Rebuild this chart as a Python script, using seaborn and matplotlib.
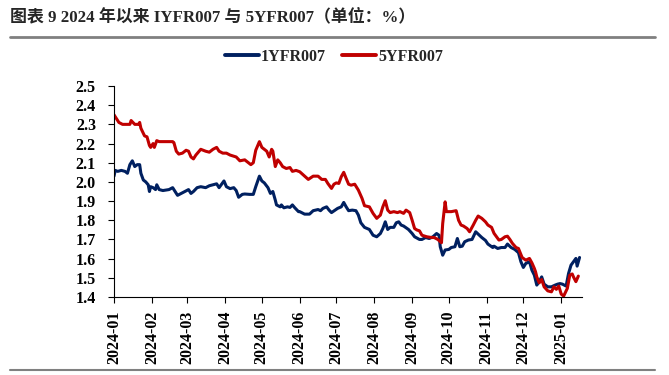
import matplotlib
matplotlib.use("Agg")
import matplotlib.pyplot as plt
import matplotlib.dates as mdates
import pandas as pd
import seaborn as sns
from matplotlib.lines import Line2D

dates_1y = ["2024-01-01","2024-01-02","2024-01-04","2024-01-07","2024-01-10","2024-01-12","2024-01-14","2024-01-16","2024-01-18","2024-01-20","2024-01-22","2024-01-23","2024-01-25","2024-01-27","2024-01-29","2024-01-30","2024-01-31","2024-02-02","2024-02-04","2024-02-05","2024-02-07","2024-02-10","2024-02-15","2024-02-18","2024-02-20","2024-02-22","2024-02-25","2024-02-28","2024-03-02","2024-03-04","2024-03-06","2024-03-09","2024-03-12","2024-03-16","2024-03-19","2024-03-22","2024-03-25","2024-03-27","2024-03-31","2024-04-02","2024-04-05","2024-04-08","2024-04-10","2024-04-12","2024-04-15","2024-04-17","2024-04-21","2024-04-24","2024-04-26","2024-04-29","2024-05-01","2024-05-03","2024-05-06","2024-05-08","2024-05-10","2024-05-12","2024-05-13","2024-05-16","2024-05-17","2024-05-19","2024-05-22","2024-05-24","2024-05-26","2024-05-28","2024-05-31","2024-06-01","2024-06-05","2024-06-09","2024-06-12","2024-06-16","2024-06-18","2024-06-20","2024-06-23","2024-06-25","2024-06-27","2024-06-30","2024-07-02","2024-07-05","2024-07-07","2024-07-09","2024-07-11","2024-07-14","2024-07-17","2024-07-19","2024-07-21","2024-07-24","2024-07-28","2024-07-31","2024-08-03","2024-08-06","2024-08-08","2024-08-10","2024-08-12","2024-08-14","2024-08-17","2024-08-19","2024-08-21","2024-08-23","2024-08-25","2024-08-29","2024-09-01","2024-09-03","2024-09-07","2024-09-09","2024-09-12","2024-09-15","2024-09-18","2024-09-21","2024-09-23","2024-09-24","2024-09-26","2024-09-28","2024-10-01","2024-10-03","2024-10-06","2024-10-08","2024-10-10","2024-10-12","2024-10-14","2024-10-17","2024-10-20","2024-10-23","2024-10-25","2024-10-28","2024-10-31","2024-11-02","2024-11-06","2024-11-07","2024-11-10","2024-11-13","2024-11-16","2024-11-18","2024-11-21","2024-11-24","2024-11-27","2024-11-29","2024-12-01","2024-12-03","2024-12-06","2024-12-08","2024-12-10","2024-12-12","2024-12-14","2024-12-16","2024-12-18","2024-12-21","2024-12-24","2024-12-27","2024-12-29","2024-12-31","2025-01-02","2025-01-05","2025-01-07","2025-01-09","2025-01-11","2025-01-13","2025-01-14","2025-01-16"]
vals_1y = [2.03,2.06,2.055,2.06,2.055,2.045,2.09,2.11,2.08,2.09,2.09,2.045,2.01,2.00,1.985,1.95,1.975,1.97,1.96,1.985,1.96,1.955,1.96,1.97,1.95,1.93,1.94,1.95,1.96,1.94,1.95,1.97,1.975,1.97,1.98,1.985,1.99,1.97,2.005,1.975,1.965,1.97,1.955,1.92,1.935,1.937,1.935,1.935,1.975,2.03,2.005,1.995,1.97,1.94,1.95,1.905,1.88,1.87,1.88,1.865,1.87,1.867,1.88,1.865,1.845,1.845,1.832,1.832,1.85,1.856,1.85,1.862,1.87,1.853,1.84,1.853,1.862,1.87,1.893,1.87,1.85,1.853,1.85,1.827,1.787,1.763,1.752,1.722,1.714,1.731,1.757,1.792,1.752,1.763,1.763,1.787,1.792,1.775,1.77,1.752,1.731,1.714,1.70,1.70,1.71,1.705,1.714,1.731,1.722,1.662,1.618,1.645,1.648,1.658,1.662,1.705,1.662,1.665,1.688,1.697,1.70,1.74,1.728,1.71,1.695,1.676,1.658,1.665,1.653,1.658,1.658,1.676,1.658,1.648,1.631,1.584,1.554,1.575,1.584,1.54,1.514,1.462,1.48,1.505,1.467,1.453,1.453,1.462,1.467,1.47,1.467,1.457,1.523,1.566,1.584,1.601,1.561,1.606]

dates_5y = ["2024-01-01","2024-01-03","2024-01-05","2024-01-08","2024-01-14","2024-01-15","2024-01-18","2024-01-21","2024-01-22","2024-01-23","2024-01-26","2024-01-28","2024-01-30","2024-01-31","2024-02-02","2024-02-03","2024-02-05","2024-02-07","2024-02-18","2024-02-19","2024-02-21","2024-02-23","2024-02-26","2024-02-29","2024-03-02","2024-03-04","2024-03-06","2024-03-08","2024-03-12","2024-03-16","2024-03-19","2024-03-22","2024-03-25","2024-03-27","2024-03-30","2024-04-02","2024-04-05","2024-04-10","2024-04-13","2024-04-17","2024-04-20","2024-04-22","2024-04-24","2024-04-26","2024-04-29","2024-05-01","2024-05-03","2024-05-05","2024-05-07","2024-05-09","2024-05-10","2024-05-12","2024-05-14","2024-05-16","2024-05-18","2024-05-21","2024-05-24","2024-05-26","2024-05-29","2024-06-01","2024-06-04","2024-06-08","2024-06-12","2024-06-16","2024-06-19","2024-06-22","2024-06-24","2024-06-27","2024-06-29","2024-07-01","2024-07-03","2024-07-05","2024-07-07","2024-07-09","2024-07-11","2024-07-13","2024-07-16","2024-07-19","2024-07-22","2024-07-24","2024-07-28","2024-07-31","2024-08-03","2024-08-06","2024-08-08","2024-08-10","2024-08-12","2024-08-14","2024-08-17","2024-08-20","2024-08-22","2024-08-25","2024-08-27","2024-08-30","2024-09-01","2024-09-03","2024-09-05","2024-09-07","2024-09-09","2024-09-13","2024-09-17","2024-09-19","2024-09-22","2024-09-25","2024-09-26","2024-09-28","2024-09-29","2024-10-03","2024-10-07","2024-10-09","2024-10-11","2024-10-13","2024-10-16","2024-10-18","2024-10-21","2024-10-23","2024-10-25","2024-10-28","2024-10-31","2024-11-02","2024-11-05","2024-11-07","2024-11-11","2024-11-13","2024-11-16","2024-11-18","2024-11-20","2024-11-22","2024-11-25","2024-11-27","2024-11-30","2024-12-03","2024-12-06","2024-12-08","2024-12-10","2024-12-11","2024-12-12","2024-12-14","2024-12-16","2024-12-18","2024-12-21","2024-12-24","2024-12-26","2024-12-28","2024-12-30","2025-01-01","2025-01-03","2025-01-06","2025-01-08","2025-01-10","2025-01-11","2025-01-13","2025-01-15"]
vals_5y = [2.35,2.33,2.31,2.30,2.30,2.32,2.30,2.30,2.31,2.28,2.24,2.235,2.19,2.18,2.20,2.18,2.215,2.21,2.21,2.205,2.16,2.145,2.15,2.165,2.16,2.13,2.12,2.14,2.17,2.16,2.155,2.17,2.18,2.16,2.15,2.15,2.14,2.13,2.11,2.115,2.10,2.09,2.10,2.165,2.21,2.18,2.17,2.16,2.13,2.17,2.16,2.08,2.115,2.10,2.08,2.07,2.075,2.055,2.06,2.053,2.036,2.013,2.03,2.03,2.013,2.013,1.992,1.966,1.988,1.995,1.992,2.027,2.05,2.018,1.988,1.983,1.988,1.957,1.914,1.876,1.87,1.836,1.81,1.827,1.87,1.902,1.853,1.84,1.845,1.84,1.845,1.836,1.853,1.84,1.80,1.757,1.749,1.745,1.722,1.714,1.71,1.71,1.70,1.683,1.783,1.896,1.845,1.845,1.85,1.80,1.775,1.77,1.757,1.74,1.775,1.80,1.822,1.81,1.792,1.775,1.763,1.732,1.697,1.70,1.714,1.717,1.70,1.68,1.658,1.653,1.606,1.592,1.601,1.578,1.549,1.531,1.505,1.474,1.491,1.453,1.432,1.427,1.453,1.44,1.457,1.415,1.405,1.445,1.514,1.52,1.505,1.48,1.509]

series_names = ["1YFR007", "5YFR007"]
series_colors = ["#002060", "#C00000"]
title_text = "图表 9 2024 年以来 IYFR007 与 5YFR007（单位：%）"

df = pd.concat([
    pd.DataFrame({"date": pd.to_datetime(dates_1y), "value": vals_1y, "series": series_names[0]}),
    pd.DataFrame({"date": pd.to_datetime(dates_5y), "value": vals_5y, "series": series_names[1]}),
], ignore_index=True)

sns.set_style("ticks")
fam = ["Liberation Serif", "Noto Sans CJK SC", "DejaVu Sans"]
plt.rcParams["font.family"] = fam
plt.rcParams["font.weight"] = "bold"

fig = plt.figure(figsize=(6.69, 3.75), dpi=100)
ax = fig.add_axes([114/669, 1-297/375, (582-114)/669, (297-86)/375])

sns.lineplot(data=df, x="date", y="value", hue="series", palette=dict(zip(series_names, series_colors)),
             linewidth=2.2, ax=ax, legend=False)

ax.set_ylim(1.4, 2.5)
ax.set_yticks([1.4 + 0.1*i for i in range(12)])
ax.yaxis.set_major_formatter(matplotlib.ticker.FormatStrFormatter("%.1f"))
ax.set_xlim(pd.Timestamp("2024-01-01"), pd.Timestamp("2025-01-18"))
ax.xaxis.set_major_locator(mdates.MonthLocator())
ax.xaxis.set_major_formatter(mdates.DateFormatter("%Y-%m"))
ax.set_xlabel("")
ax.set_ylabel("")
for lab in ax.get_xticklabels():
    lab.set_rotation(90)
ax.tick_params(axis="both", labelsize=11.5, direction="out", length=4, width=0.8, colors="black")
ax.tick_params(axis="y", pad=9)
ax.tick_params(axis="x", pad=6)
for lab in ax.get_xticklabels() + ax.get_yticklabels():
    lab.set_fontweight("bold")
sns.despine(ax=ax)
for s in ["left", "bottom"]:
    ax.spines[s].set_color("black")
    ax.spines[s].set_linewidth(0.8)

# legend
handles = [Line2D([0], [0], color=c, lw=2.8) for c in series_colors]
fig.legend(handles, series_names, loc="center", bbox_to_anchor=(334/669, 1-57/375), ncol=2,
           frameon=False, prop={"weight": "bold", "size": 11.5}, handlelength=2.1,
           columnspacing=1.0, handletextpad=0.15)

# title and rules
fig.text(10/669, 1-17/375, title_text, fontsize=12.2, fontweight="bold", va="center", ha="left")
fig.add_artist(Line2D([10/669, 655/669], [1-37/375, 1-37/375], color="#808080", lw=2, transform=fig.transFigure))
fig.add_artist(Line2D([10/669, 655/669], [1-370/375, 1-370/375], color="#808080", lw=1.5, transform=fig.transFigure))

fig.savefig("out.png", dpi=100)
